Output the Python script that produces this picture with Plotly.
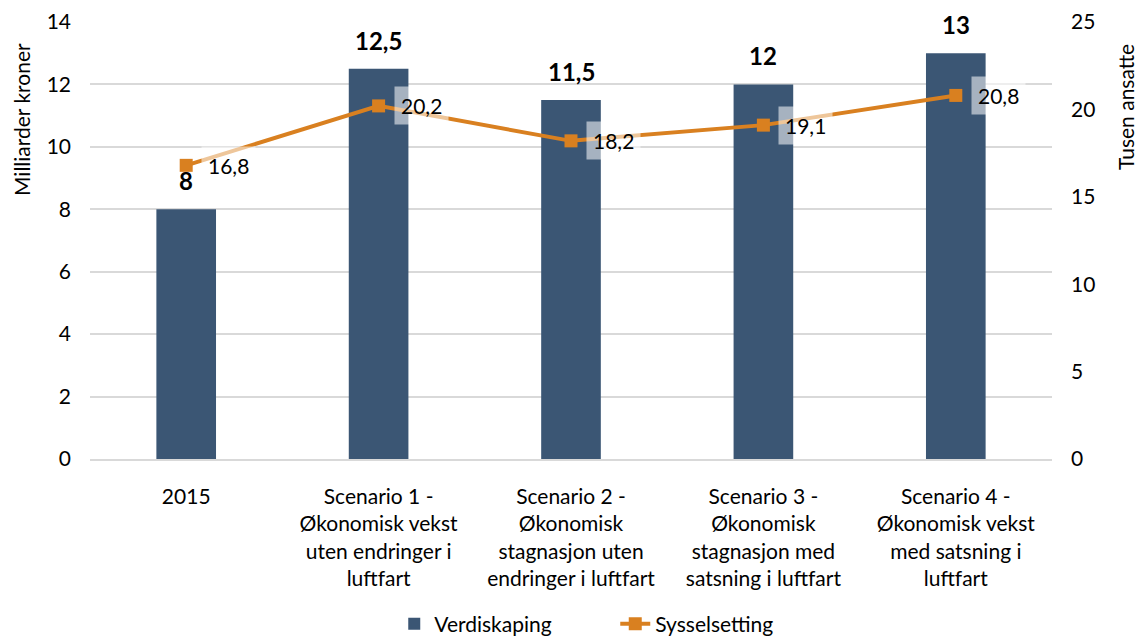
import plotly.graph_objects as go

# Kategorier og verdier
categories = [
    "2015",
    "Scenario 1 -<br>Økonomisk vekst<br>uten endringer i<br>luftfart",
    "Scenario 2 -<br>Økonomisk<br>stagnasjon uten<br>endringer i luftfart",
    "Scenario 3 -<br>Økonomisk<br>stagnasjon med<br>satsning i luftfart",
    "Scenario 4 -<br>Økonomisk vekst<br>med satsning i<br>luftfart",
]
verdiskaping = [8, 12.5, 11.5, 12, 13]          # milliarder kroner
sysselsetting = [16.8, 20.2, 18.2, 19.1, 20.8]   # tusen ansatte

left_ticks = [0, 2, 4, 6, 8, 10, 12, 14]
right_ticks = [0, 5, 10, 15, 20, 25]

BAR_COLOR = "#3B5674"
LINE_COLOR = "#D98020"
GRID = "#D9D9D9"
FONT = "Lato"
W, H = 1137, 641
ML, MR, MT, MB = 90, 85, 22, 182


def fmt(v):
    return f"{v:g}".replace(".", ",")


xs = list(range(len(categories)))

fig = go.Figure()
fig.add_trace(go.Bar(
    x=xs, y=verdiskaping, name="Verdiskaping",
    marker=dict(color=BAR_COLOR, line=dict(width=0)),
    width=0.31, yaxis="y",
))
fig.add_trace(go.Scatter(
    x=xs, y=sysselsetting, name="Sysselsetting", yaxis="y2",
    mode="lines+markers",
    line=dict(color=LINE_COLOR, width=4),
    marker=dict(symbol="square", size=13, color=LINE_COLOR),
))

annotations = []
# verdietiketter over søylene
for x, v in zip(xs, verdiskaping):
    annotations.append(dict(
        x=x, y=v, xref="x", yref="y", text=f"<b>{fmt(v)}</b>",
        showarrow=False, yanchor="bottom", yshift=12,
        font=dict(family=FONT, size=24, color="#000000"),
    ))
# verdietiketter for linjen, med halvgjennomsiktig bakgrunn
for x, v in zip(xs, sysselsetting):
    annotations.append(dict(
        x=x, y=v, xref="x", yref="y2", text=fmt(v),
        showarrow=False, xanchor="left", yanchor="middle", xshift=15,
        bgcolor="rgba(255,255,255,0.55)", borderpad=6,
        font=dict(family=FONT, size=21, color="#000000"),
    ))

# aksetitler (posisjon i piksler omregnet til papirkoordinater)
plot_w = W - ML - MR
plot_h = H - MT - MB
annotations.append(dict(
    xref="paper", yref="paper", xanchor="center", yanchor="middle",
    x=(21 - ML) / plot_w, y=(H - MB - 120) / plot_h,
    text="Milliarder kroner", showarrow=False, textangle=-90,
    font=dict(family=FONT, size=21, color="#000000"),
))
annotations.append(dict(
    xref="paper", yref="paper", xanchor="center", yanchor="middle",
    x=(1125 - ML) / plot_w, y=(H - MB - 107) / plot_h,
    text="Tusen ansatte", showarrow=False, textangle=-90,
    font=dict(family=FONT, size=21, color="#000000"),
))

fig.update_layout(
    width=W, height=H,
    margin=dict(l=ML, r=MR, t=MT, b=MB),
    paper_bgcolor="white", plot_bgcolor="white",
    separators=", ",
    font=dict(family=FONT, size=21, color="#000000"),
    xaxis=dict(
        tickmode="array", tickvals=xs, ticktext=categories,
        range=[-0.5, 4.5], showgrid=False, zeroline=False,
        showline=True, linecolor=GRID, linewidth=1.5,
        ticks="", ticklabelstandoff=18, automargin=False,
        tickfont=dict(family=FONT, size=21, color="#000000"),
    ),
    yaxis=dict(
        range=[0, 14], tickvals=left_ticks, showgrid=True,
        gridcolor=GRID, gridwidth=1.5, zeroline=False,
        ticks="", ticklabelstandoff=18, automargin=False,
        tickfont=dict(family=FONT, size=21, color="#000000"),
    ),
    yaxis2=dict(
        range=[0, 25], tickvals=right_ticks, overlaying="y", side="right",
        showgrid=False, zeroline=False, ticks="", ticklabelstandoff=18,
        automargin=False,
        tickfont=dict(family=FONT, size=21, color="#000000"),
    ),
    legend=dict(
        orientation="h", xanchor="center", x=0.546,
        yref="container", yanchor="middle", y=1 - 624 / H,
        font=dict(family=FONT, size=21, color="#000000"),
        entrywidth=176, entrywidthmode="pixels",
        traceorder="normal",
    ),
    annotations=annotations,
)

fig.write_html("out.html")
